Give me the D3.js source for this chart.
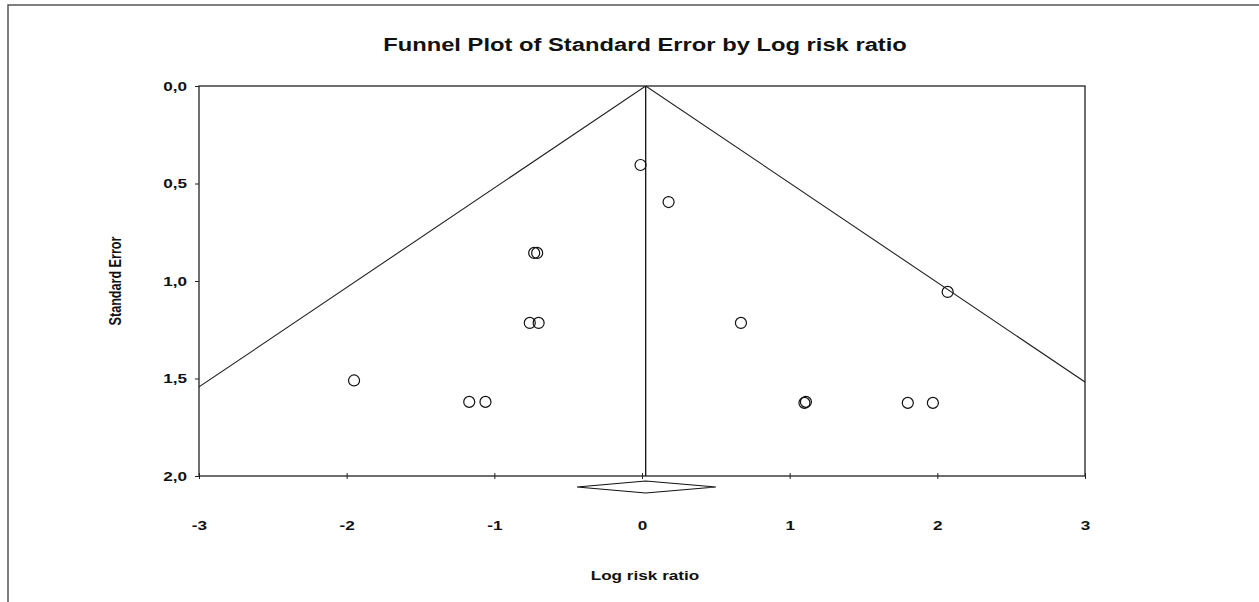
<!DOCTYPE html>
<html lang="en">
<head>
<meta charset="UTF-8">
<title>Funnel Plot</title>
<script src="https://cdn.jsdelivr.net/npm/d3@7/dist/d3.min.js"></script>
<style>
  body { margin: 0; background: #fff; }
  text { font-family: "Liberation Sans", Arial, sans-serif; font-weight: bold; fill: #111; }
</style>
</head>
<body>
<script>
// study effects (log risk ratio) and standard errors
var logRR = [-1.95, -1.17, -1.06, -0.76, -0.70, -0.73, -0.71, -0.01, 0.18, 0.67, 1.10, 1.11, 1.80, 1.97, 2.07];
var stdErr = [1.51, 1.62, 1.62, 1.215, 1.215, 0.856, 0.856, 0.405, 0.595, 1.215, 1.625, 1.62, 1.625, 1.625, 1.056];
var pooled = 0.025;
var pooledLow = -0.44, pooledHigh = 0.50;
var xTicks = [-3, -2, -1, 0, 1, 2, 3];
var yTicks = [0, 0.5, 1, 1.5, 2];

var W = 1259, H = 602;
var stretch = 1.32; // text in the original is widened horizontally
var margin = {top: 86, left: 199, right: W - 1085, bottom: H - 476};
var width = W - margin.left - margin.right,
    height = H - margin.top - margin.bottom;

var svg = d3.select("body").append("svg")
    .attr("width", W).attr("height", H);

// outer frame
svg.append("rect")
    .attr("x", 8).attr("y", 5).attr("width", W + 20).attr("height", H + 20)
    .attr("fill", "none").attr("stroke", "#555").attr("stroke-width", 1.5);

var x = d3.scaleLinear().domain([-3, 3]).range([0, width]);
var y = d3.scaleLinear().domain([0, 2]).range([0, height]);

var g = svg.append("g")
    .attr("transform", "translate(" + margin.left + "," + margin.top + ")");

g.append("defs").append("clipPath").attr("id", "clip")
    .append("rect").attr("width", width).attr("height", height);

// plot box
g.append("rect")
    .attr("width", width).attr("height", height)
    .attr("fill", "none").attr("stroke", "#222").attr("stroke-width", 1.3);

// funnel lines
var funnel = [[pooled - 1.96 * 2, 2], [pooled, 0], [pooled + 1.96 * 2, 2]];
g.append("path")
    .attr("clip-path", "url(#clip)")
    .attr("d", d3.line().x(function(d) { return x(d[0]); }).y(function(d) { return y(d[1]); })(funnel))
    .attr("fill", "none").attr("stroke", "#222").attr("stroke-width", 1.1);

// pooled line
g.append("line")
    .attr("x1", x(pooled)).attr("x2", x(pooled))
    .attr("y1", y(0)).attr("y2", y(2))
    .attr("stroke", "#111").attr("stroke-width", 1.3);

// axes
var xAxis = g.append("g")
    .attr("transform", "translate(0," + height + ")")
    .call(d3.axisBottom(x).tickValues(xTicks).tickSize(3).tickFormat(function(d) { return String(d); }));
xAxis.select(".domain").remove();
xAxis.selectAll(".tick line").attr("y1", -3).attr("stroke", "#222");
xAxis.selectAll(".tick text")
    .attr("y", null).attr("dy", null)
    .attr("transform", "translate(0,54) scale(" + stretch + ",1)")
    .style("font-size", "13px").attr("fill", "#111");

var yAxis = g.append("g")
    .call(d3.axisLeft(y).tickValues(yTicks).tickSize(4)
        .tickFormat(function(d) { return d3.format(".1f")(d).replace(".", ","); }));
yAxis.select(".domain").remove();
yAxis.selectAll(".tick line").attr("stroke", "#222");
yAxis.selectAll(".tick text")
    .attr("x", null)
    .attr("transform", "translate(-12,0) scale(" + stretch + ",1)")
    .style("font-size", "13px").attr("fill", "#111");

// pooled diamond
var dy = 6, dc = height + 11;
g.append("path")
    .attr("d", d3.line()([
        [x(pooledLow), dc], [x(pooled), dc - dy], [x(pooledHigh), dc], [x(pooled), dc + dy]
    ]) + "Z")
    .attr("fill", "#fff").attr("stroke", "#111").attr("stroke-width", 1.1);

// studies
g.selectAll("circle.study")
    .data(logRR.map(function(v, i) { return [v, stdErr[i]]; }))
    .enter().append("circle")
    .attr("class", "study")
    .attr("cx", function(d) { return x(d[0]); })
    .attr("cy", function(d) { return y(d[1]); })
    .attr("r", 5.5)
    .attr("fill", "none").attr("stroke", "#111").attr("stroke-width", 1.2);

// titles
svg.append("text")
    .attr("transform", "translate(645,51) scale(" + stretch + ",1)")
    .attr("text-anchor", "middle")
    .style("font-size", "18px")
    .text("Funnel Plot of Standard Error by Log risk ratio");

svg.append("text")
    .attr("transform", "translate(645,580) scale(" + stretch + ",1)")
    .attr("text-anchor", "middle")
    .style("font-size", "13px")
    .text("Log risk ratio");

svg.append("text")
    .attr("transform", "translate(121,281) rotate(-90) scale(1.05,1.3)")
    .attr("text-anchor", "middle")
    .style("font-size", "12px")
    .text("Standard Error");
</script>
</body>
</html>
